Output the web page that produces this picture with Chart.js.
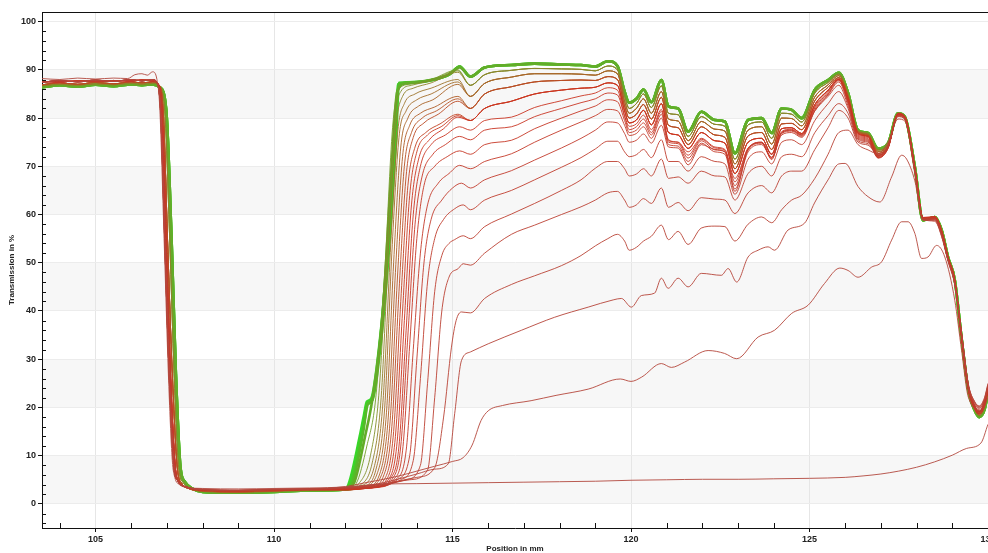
<!DOCTYPE html>
<html>
<head>
<meta charset="utf-8">
<title>Transmission profiles</title>
<style>
  html, body { margin: 0; padding: 0; background: #fff; }
  #wrap { width: 988px; height: 553px; }
</style>
</head>
<body>
<div id="wrap"><canvas id="myChart"></canvas></div>
<script src="https://cdn.jsdelivr.net/npm/chart.js"></script>
<script>
// Axis ticks
const xTicks = [105, 110, 115, 120, 125, 130];
const yTicks = [0, 10, 20, 30, 40, 50, 60, 70, 80, 90, 100];

// Entry plateau and first edge, [position mm, transmission %]
const leftTop = [[103.5, 88.2], [104.0, 88.0], [104.5, 88.3], [105.0, 88.1], [105.5, 88.3], [105.9, 88.2], [106.1, 89.0], [106.3, 89.2], [106.45, 88.9], [106.6, 89.6], [106.72, 88.0], [106.8, 82.0], [106.92, 55.0], [107.04, 27.0], [107.15, 9.0], [107.22, 5.5], [107.35, 4.0], [107.6, 3.4], [108.0, 3.2], [109.0, 3.1], [110.0, 3.2], [111.0, 3.3]];
const leftRed = [[103.5, 87.4], [104.0, 87.8], [104.5, 87.5], [105.0, 87.9], [105.5, 87.6], [106.0, 88.0], [106.3, 87.7], [106.6, 88.0], [106.72, 87.4], [106.82, 81.5], [106.94, 54.0], [107.06, 27.0], [107.19, 8.0], [107.3, 4.8], [107.5, 3.6], [108.0, 3.0], [109.0, 2.8], [110.0, 3.0], [111.0, 3.1]];
const leftRedLate = [[103.5, 87.6], [104.0, 87.5], [104.5, 87.7], [105.0, 87.6], [105.5, 87.8], [106.0, 87.7], [106.3, 87.9], [106.6, 87.7], [106.74, 87.2], [106.86, 81.5], [106.98, 54.0], [107.1, 27.0], [107.23, 8.0], [107.34, 4.6], [107.55, 3.5], [108.0, 2.9], [109.0, 2.7], [110.0, 2.9], [111.0, 3.0]];
const leftOlive = [[103.5, 86.9], [104.0, 87.3], [104.5, 87.0], [105.0, 87.4], [105.5, 87.1], [106.0, 87.5], [106.3, 87.3], [106.6, 87.5], [106.76, 87.0], [106.9, 81.0], [107.02, 54.0], [107.15, 27.0], [107.29, 7.5], [107.42, 4.2], [107.6, 3.2], [108.0, 2.7], [109.0, 2.5], [110.0, 2.7], [111.0, 2.9]];
const leftLime = [[103.5, 86.7], [104.0, 87.0], [104.5, 86.8], [105.0, 87.1], [105.5, 86.9], [106.0, 87.2], [106.3, 87.0], [106.6, 87.2], [106.78, 86.7], [106.94, 81.3], [107.08, 54.3], [107.2, 27.0], [107.33, 7.5], [107.46, 4.4], [107.65, 3.2], [108.0, 2.6], [109.0, 2.4], [110.0, 2.6], [111.0, 2.8]];
const leftGreen = [[103.5, 86.4], [104.0, 86.8], [104.5, 86.5], [105.0, 86.9], [105.5, 86.6], [106.0, 87.0], [106.3, 86.8], [106.6, 87.0], [106.8, 86.4], [106.98, 81.7], [107.13, 54.7], [107.25, 27.0], [107.38, 7.5], [107.5, 4.6], [107.7, 3.2], [108.0, 2.5], [109.0, 2.3], [110.0, 2.5], [111.0, 2.8]];

// First three scans, complete from 112 mm
const tailA = [[112, 3.5], [112.5, 3.8], [113, 4.1], [114, 4.2], [115, 4.3], [116, 4.4], [117, 4.5], [118, 4.6], [119, 4.7], [120, 4.9], [121, 5.0], [122, 5.1], [123, 5.1], [124, 5.2], [125, 5.3], [126, 5.5], [126.5, 5.8], [127, 6.2], [127.5, 6.8], [128, 7.6], [128.5, 8.7], [129, 10.1], [129.4, 11.5], [129.8, 12.6], [130, 16.5]];
const tailB = [[112, 3.6], [112.5, 4.3], [113, 5.0], [113.5, 5.8], [114, 6.8], [114.5, 7.8], [115, 8.8], [115.3, 9.6], [115.55, 12.2], [115.8, 17.3], [116.0, 19.3], [116.4, 20.4], [117.2, 21.4], [117.9, 22.5], [118.8, 23.8], [119.7, 25.9], [120.0, 25.4], [120.3, 26.3], [120.85, 29.1], [121.13, 28.3], [121.5, 29.4], [122.16, 31.8], [122.62, 31.2], [122.96, 30.1], [123.56, 34.6], [124.02, 36.0], [124.5, 39.5], [124.96, 41.2], [125.42, 45.7], [125.85, 48.9], [126.08, 48.4], [126.36, 47.0], [126.74, 49.1], [127.02, 50.2], [127.3, 54.7], [127.58, 58.5], [127.76, 58.5], [127.95, 56.1], [128.14, 50.9], [128.32, 51.2], [128.56, 53.6], [128.79, 51.2], [129.07, 42.2], [129.26, 31.8], [129.45, 22.1], [129.82, 19.3], [130.0, 22.1]];
const tailC = [[112, 3.4], [113, 4.3], [114, 6.2], [114.5, 7.2], [114.88, 8.3], [115.06, 18.7], [115.25, 29.7], [115.5, 31.5], [116.0, 33.2], [116.93, 36.0], [117.86, 38.7], [118.8, 40.8], [119.5, 42.3], [119.73, 42.6], [120.01, 40.8], [120.29, 43.2], [120.66, 43.7], [120.85, 46.8], [121.04, 44.7], [121.32, 46.8], [121.6, 45.0], [121.97, 47.8], [122.53, 47.4], [122.72, 48.8], [122.96, 46.0], [123.28, 51.2], [123.56, 52.6], [123.84, 53.3], [124.02, 52.6], [124.4, 56.8], [124.86, 58.2], [125.14, 62.4], [125.52, 67.2], [125.82, 70.5], [126.0, 70.6], [126.36, 65.8], [126.64, 63.7], [126.97, 62.6], [127.3, 67.8], [127.58, 72.3], [127.72, 71.5], [127.95, 67.0], [128.18, 58.8], [128.51, 58.8], [128.7, 55.5], [128.88, 50.3], [129.07, 45.4], [129.25, 36.0], [129.45, 24.8], [129.62, 21.3], [129.75, 20.3], [129.9, 22.0], [130, 25.0]];

// Second edge of the later scans, [position mm, transmission %]
const rise1 = [[112, 3.4], [113, 4.1], [114, 5.5], [114.5, 7.5], [114.75, 18.0], [114.97, 32.5], [115.1, 38.0], [115.25, 39.8]];
const rise2 = [[112, 3.3], [113, 4.0], [113.8, 5.0], [114.3, 7.0], [114.5, 22.0], [114.7, 40.0], [114.9, 47.0], [115.16, 48.8], [115.3, 49.8]];
const rise3 = [[112, 3.3], [113, 3.9], [113.7, 5.0], [114.1, 8.0], [114.3, 25.0], [114.5, 44.0], [114.7, 51.5], [114.9, 54.0], [115.06, 54.8], [115.3, 55.6]];
const rise4 = [[112, 3.2], [113, 3.8], [113.55, 5.0], [113.9, 9.0], [114.1, 26.0], [114.3, 46.0], [114.5, 55.0], [114.75, 59.0], [115.06, 61.2], [115.3, 62.0]];
const rise5 = [[112, 3.2], [113, 3.7], [113.45, 5.0], [113.8, 10.0], [114.0, 30.0], [114.2, 50.0], [114.4, 59.0], [114.7, 63.0], [115.0, 65.5], [115.25, 66.5]];
const rise6 = [[112, 3.2], [113, 3.7], [113.4, 5.0], [113.7, 11.0], [113.9, 32.0], [114.1, 52.0], [114.3, 62.0], [114.6, 66.5], [114.9, 68.5], [115.2, 70.2]];
const rise7 = [[112, 3.1], [113, 3.6], [113.35, 5.0], [113.6, 11.0], [113.8, 33.0], [114.0, 55.0], [114.2, 66.0], [114.5, 70.0], [114.85, 72.0], [115.2, 73.2]];
const rise8 = [[112, 3.1], [113, 3.6], [113.3, 5.0], [113.55, 12.0], [113.75, 35.0], [113.95, 58.0], [114.15, 68.0], [114.45, 72.5], [114.8, 74.5], [115.2, 76.2]];
const rise9 = [[112, 3.1], [113, 3.5], [113.25, 5.0], [113.5, 12.0], [113.7, 36.0], [113.9, 60.0], [114.1, 70.0], [114.4, 74.5], [114.8, 76.5], [115.2, 78.2]];

const bundleRises = [
  [[112, 3.0], [112.8, 3.4], [113.2, 5.0], [113.45, 13.0], [113.65, 38.0], [113.85, 62.0], [114.05, 71.5], [114.35, 75.5], [114.75, 77.8], [115.15, 80.2]],
  [[112, 3.0], [112.8, 3.4], [113.15, 5.0], [113.4, 14.0], [113.6, 40.0], [113.8, 64.0], [114.0, 73.0], [114.3, 76.5], [114.7, 78.3], [115.15, 80.5]],
  [[112, 3.0], [112.7, 3.4], [113.1, 5.2], [113.35, 15.0], [113.55, 42.0], [113.75, 66.0], [113.95, 74.0], [114.25, 77.0], [114.65, 78.8], [115.15, 80.8]],
  [[112, 2.9], [112.7, 3.4], [113.05, 5.5], [113.3, 16.0], [113.5, 44.0], [113.7, 68.0], [113.9, 76.0], [114.2, 79.0], [114.6, 80.8], [115.15, 83.5]],
  [[112, 2.9], [112.6, 3.4], [113.0, 5.8], [113.25, 17.0], [113.45, 46.0], [113.65, 70.0], [113.85, 77.0], [114.15, 80.0], [114.55, 81.5], [115.15, 84.0]],
  [[112, 2.9], [112.6, 3.5], [112.95, 6.0], [113.2, 18.0], [113.4, 48.0], [113.6, 72.0], [113.8, 78.5], [114.1, 81.0], [114.5, 82.3], [115.15, 84.5]],
  [[112, 2.9], [112.5, 3.5], [112.9, 6.5], [113.15, 19.0], [113.35, 50.0], [113.55, 74.0], [113.75, 80.0], [114.05, 82.5], [114.45, 83.8], [115.15, 87.0]],
  [[112, 2.9], [112.5, 3.6], [112.85, 7.0], [113.1, 20.0], [113.3, 52.0], [113.5, 76.0], [113.7, 81.5], [114.0, 83.8], [114.4, 85.0], [115.15, 87.5]],
  [[112, 2.9], [112.4, 3.6], [112.8, 7.5], [113.05, 21.0], [113.27, 54.0], [113.47, 77.5], [113.65, 83.0], [113.95, 85.0], [114.4, 86.2], [115.15, 88.0]],
  [[112, 2.9], [112.4, 3.8], [112.75, 8.5], [113.0, 22.0], [113.22, 55.0], [113.42, 78.5], [113.6, 84.5], [113.9, 86.2], [114.4, 87.3], [115.15, 89.5]],
  [[112, 2.9], [112.35, 4.0], [112.7, 10.0], [112.95, 24.0], [113.18, 56.0], [113.38, 80.0], [113.55, 85.5], [113.85, 86.8], [114.4, 87.8], [115.15, 89.8]],
  [[112, 2.9], [112.3, 4.2], [112.6, 12.0], [112.85, 22.0], [113.1, 48.0], [113.32, 78.0], [113.5, 86.0], [113.8, 87.0], [114.4, 88.0], [115.15, 90.0]],
  [[112, 3.0], [112.25, 4.5], [112.55, 14.0], [112.75, 21.5], [113.05, 40.0], [113.28, 68.0], [113.45, 85.5], [113.7, 87.2], [114.3, 87.8], [114.9, 89.0], [115.2, 90.5]],
  [[112, 3.0], [112.2, 4.5], [112.5, 15.0], [112.62, 20.5], [112.75, 21.5], [113.0, 36.0], [113.24, 60.0], [113.42, 82.0], [113.5, 87.0], [114.0, 87.4], [114.5, 88.0], [114.9, 89.0], [115.2, 90.7]],
  [[112, 3.0], [112.17, 4.8], [112.45, 14.0], [112.54, 17.5], [112.62, 21.0], [112.75, 21.5], [113.0, 33.9], [113.24, 54.7], [113.42, 75.5], [113.5, 87.3], [114.0, 87.5], [114.5, 88.0], [114.9, 89.0], [115.2, 90.7]],
  [[112, 3.0], [112.12, 4.8], [112.4, 14.0], [112.52, 18.5], [112.6, 21.2], [112.72, 21.8], [112.95, 33.0], [113.2, 54.0], [113.38, 75.0], [113.47, 87.0], [114.0, 87.5], [114.5, 88.0], [114.9, 89.0], [115.2, 90.7]]
];

// Upper plateau positions (mm) shared by the body arrays below
const bodyPos = [115.5, 115.9, 116.65, 117.3, 118.05, 118.6, 119.0, 119.35, 119.62, 119.82,
  119.95, 120.15, 120.35, 120.57, 120.85, 121.05, 121.32, 121.6, 121.97, 122.35,
  122.63, 122.91, 123.28, 123.66, 123.94, 124.22, 124.5, 124.78, 125.15, 125.52,
  125.82, 126.08, 126.36, 126.64, 126.92, 127.2, 127.48, 127.67, 127.95, 128.18,
  128.51, 128.7, 128.88, 129.07, 129.25, 129.45, 129.62, 129.75, 129.9, 130];

const mid1 = [39.6, 42.6, 45.5, 47.3, 49.4, 51.5, 53.5, 55.0, 55.9, 54.5,
  52.6, 53.2, 54.5, 55.5, 57.8, 54.8, 56.5, 53.8, 57.2, 57.6,
  57.5, 54.5, 58.0, 59.5, 58.3, 61.0, 63.0, 64.0, 67.5, 72.5,
  77.0, 77.5, 74.5, 73.4, 72.6, 75.0, 79.8, 79.4, 68.5, 59.0,
  58.6, 55.5, 50.5, 45.5, 35.8, 24.5, 21.0, 20.0, 21.5, 24.5];
const mid2 = [49.5, 52.0, 55.9, 57.8, 60.0, 61.6, 63.0, 64.5, 64.8, 63.0,
  61.5, 62.0, 63.3, 62.3, 65.5, 61.5, 62.5, 60.8, 63.5, 63.2,
  63.0, 60.2, 64.5, 66.0, 64.5, 68.0, 69.0, 69.0, 73.5, 78.0,
  81.6, 80.0, 75.0, 74.4, 72.4, 74.2, 80.3, 79.7, 69.0, 59.0,
  58.9, 55.8, 50.6, 45.6, 36.0, 24.8, 21.2, 20.2, 21.8, 24.8];
const mid3 = [55.0, 57.5, 60.1, 62.3, 65.0, 67.2, 69.6, 71.0, 71.0, 69.5,
  68.0, 68.4, 69.5, 68.0, 71.5, 67.5, 67.8, 66.5, 69.0, 68.0,
  67.8, 63.0, 68.5, 70.0, 68.0, 72.0, 72.5, 72.0, 77.0, 80.5,
  83.0, 81.0, 75.3, 74.7, 72.2, 74.0, 80.4, 79.8, 69.2, 59.1,
  59.0, 56.0, 50.7, 45.8, 35.8, 24.5, 20.8, 19.8, 21.5, 24.5];
const mid4 = [61.0, 63.0, 65.0, 67.2, 69.8, 71.8, 73.6, 75.2, 75.2, 73.0,
  72.0, 72.4, 73.5, 71.8, 75.5, 71.0, 71.0, 69.0, 72.0, 71.0,
  70.5, 64.2, 71.5, 73.0, 70.5, 75.0, 75.5, 74.5, 79.5, 83.0,
  85.5, 82.0, 75.6, 75.0, 72.3, 74.2, 80.5, 79.9, 69.3, 59.0,
  59.1, 56.1, 50.8, 45.9, 35.6, 24.3, 20.5, 19.5, 21.2, 24.2];
const mid5 = [65.5, 67.2, 69.1, 71.3, 73.8, 75.8, 77.5, 79.2, 79.0, 76.8,
  75.0, 75.4, 76.7, 74.8, 78.5, 74.0, 73.8, 70.3, 74.5, 73.5,
  73.0, 64.8, 73.5, 75.0, 72.5, 77.0, 77.5, 76.5, 81.5, 84.5,
  86.8, 82.5, 75.8, 75.2, 72.0, 74.0, 80.6, 80.0, 69.4, 59.0,
  59.2, 56.2, 50.9, 46.0, 35.5, 24.1, 20.3, 19.2, 21.0, 24.0];
const mid6 = [69.5, 71.0, 72.6, 75.0, 77.5, 79.2, 80.5, 81.8, 81.5, 78.5,
  76.4, 76.8, 78.2, 75.8, 80.0, 74.5, 74.2, 71.0, 74.8, 73.0,
  72.5, 65.3, 73.0, 74.5, 71.8, 76.5, 77.0, 76.0, 81.5, 84.8,
  87.5, 83.0, 76.0, 75.4, 71.8, 73.8, 80.7, 80.1, 69.5, 59.1,
  59.3, 56.3, 51.0, 46.1, 35.3, 23.9, 20.1, 19.0, 20.8, 23.8];
const mid7 = [72.5, 74.5, 75.4, 77.8, 80.0, 81.5, 82.5, 83.8, 83.4, 79.5,
  77.0, 77.5, 79.0, 76.5, 80.8, 75.0, 74.7, 71.7, 75.3, 73.4,
  73.0, 66.0, 73.4, 74.8, 71.9, 76.8, 77.3, 76.2, 81.8, 85.0,
  87.8, 83.3, 76.2, 75.6, 71.7, 73.7, 80.8, 80.2, 69.6, 59.2,
  59.4, 56.4, 51.0, 46.2, 35.2, 23.8, 20.0, 18.8, 20.6, 23.6];
const mid8 = [75.5, 77.5, 78.2, 80.3, 82.0, 83.2, 84.0, 85.2, 84.8, 80.3,
  77.6, 78.2, 79.8, 77.0, 81.4, 75.3, 75.0, 72.3, 75.6, 73.8,
  73.3, 66.8, 73.7, 74.9, 71.6, 77.0, 77.5, 76.4, 82.1, 85.3,
  88.0, 83.5, 76.4, 75.8, 71.8, 73.8, 80.9, 80.3, 69.7, 59.3,
  59.5, 56.5, 51.1, 46.3, 35.1, 23.7, 19.9, 18.6, 20.4, 23.4];
const mid9 = [77.5, 79.5, 80.2, 82.2, 83.6, 84.6, 85.2, 86.3, 85.8, 80.5,
  78.3, 78.8, 80.6, 77.6, 81.8, 75.5, 75.0, 73.0, 75.8, 74.0,
  73.5, 67.5, 73.8, 75.0, 71.4, 77.2, 77.7, 76.6, 82.4, 85.6,
  88.2, 83.8, 76.6, 76.0, 72.0, 73.9, 81.0, 80.4, 69.8, 59.4,
  59.6, 56.6, 51.2, 46.4, 35.0, 23.6, 19.8, 18.5, 20.2, 23.2];

const band1 = [79.5, 82.0, 83.5, 85.0, 85.8, 86.2, 86.4, 87.3, 86.8, 81.5,
  79.0, 79.6, 81.6, 78.6, 83.0, 77.0, 76.5, 73.7, 77.0, 75.3,
  74.8, 68.5, 75.0, 75.8, 72.5, 77.8, 78.0, 76.8, 82.8, 85.8,
  88.0, 84.0, 76.8, 76.2, 72.3, 74.0, 80.7, 80.2, 69.6, 59.3,
  59.4, 56.5, 51.1, 46.2, 35.5, 24.2, 20.4, 19.2, 21.0, 24.2];
const band2 = [82.0, 85.0, 86.5, 87.5, 87.8, 87.9, 87.8, 88.6, 88.0, 82.5,
  80.0, 80.8, 82.8, 79.8, 84.3, 78.5, 78.0, 74.5, 78.2, 76.5,
  76.0, 69.5, 76.3, 77.0, 73.5, 78.8, 78.9, 77.6, 83.6, 86.4,
  88.4, 84.3, 77.0, 76.4, 72.7, 74.2, 80.8, 80.2, 69.7, 59.2,
  59.5, 56.6, 51.1, 46.3, 35.3, 24.0, 20.2, 19.0, 20.7, 23.9];
const band3 = [84.5, 87.2, 88.5, 89.2, 89.2, 89.1, 88.9, 89.8, 89.2, 83.5,
  81.0, 82.0, 84.0, 81.0, 85.5, 79.8, 79.4, 75.3, 79.3, 77.7,
  77.3, 70.5, 77.5, 78.2, 74.6, 80.0, 79.9, 78.4, 84.4, 86.9,
  88.8, 84.6, 77.2, 76.6, 73.1, 74.4, 80.9, 80.2, 69.8, 59.1,
  59.5, 56.7, 51.2, 46.4, 35.2, 23.8, 19.9, 18.7, 20.3, 23.6];
const band4 = [86.8, 89.0, 89.9, 90.3, 90.2, 90.1, 89.8, 90.8, 90.0, 84.5,
  82.0, 83.0, 85.0, 82.2, 86.7, 81.0, 80.7, 76.2, 80.3, 78.7,
  78.3, 71.5, 78.6, 79.2, 75.8, 81.0, 80.8, 79.2, 85.2, 87.4,
  89.1, 84.9, 77.4, 76.8, 73.4, 74.6, 81.0, 80.3, 69.9, 59.0,
  59.5, 56.8, 51.2, 46.4, 35.1, 23.6, 19.7, 18.3, 19.9, 23.3];
const bandTop = [88.6, 90.5, 91.0, 91.3, 91.1, 91.0, 90.7, 91.8, 90.8, 85.5,
  83.2, 84.0, 85.9, 83.3, 87.9, 82.4, 82.0, 77.2, 81.3, 79.6,
  79.3, 72.7, 79.6, 80.0, 76.9, 82.0, 81.7, 80.0, 85.9, 87.9,
  89.4, 85.2, 77.5, 76.9, 73.7, 74.8, 81.0, 80.3, 69.9, 58.8,
  59.5, 56.8, 51.2, 46.4, 35.0, 23.5, 19.5, 18.0, 19.5, 23.0];

// scan order: first pieces of each curve
const curves = [
  { left: leftTop, tail: tailA },
  { left: leftRed, tail: tailB },
  { left: leftRed, tail: tailC },
  { left: leftRed, tail: rise1, body: mid1 },
  { left: leftRed, tail: rise2, body: mid2 },
  { left: leftRed, tail: rise3, body: mid3 },
  { left: leftRed, tail: rise4, body: mid4 },
  { left: leftRedLate, tail: rise5, body: mid5 },
  { left: leftRedLate, tail: rise6, body: mid6 },
  { left: leftRedLate, tail: rise7, body: mid7 },
  { left: leftRedLate, tail: rise8, body: mid8 },
  { left: leftRedLate, tail: rise9, body: mid9 }
];
const bundleLeft = [leftRedLate, leftRedLate, leftRedLate, leftOlive, leftOlive, leftOlive,
  leftOlive, leftOlive, leftOlive, leftLime, leftLime, leftLime, leftGreen, leftGreen, leftGreen, leftGreen];
const bundleBody = [band1, band1, band1, band2, band2, band2, band3, band3, band3,
  band4, band4, band4, bandTop, bandTop, bandTop, bandTop];
bundleRises.forEach((r, i) => curves.push({ left: bundleLeft[i], tail: r, body: bundleBody[i] }));

function toPoints(c) {
  const pts = c.left.concat(c.tail).map(p => ({ x: p[0], y: p[1] }));
  if (c.body) c.body.forEach((y, i) => pts.push({ x: bodyPos[i], y: y }));
  return pts;
}

// red -> brown -> green along the scan order
function lineColour(t) {
  const stops = [[0, [178, 72, 62]], [0.45, [205, 50, 30]], [0.75, [155, 118, 42]], [1, [55, 215, 40]]];
  let k = 1;
  while (k < stops.length - 1 && t > stops[k][0]) k++;
  const a = stops[k - 1], b = stops[k];
  const f = (t - a[0]) / (b[0] - a[0]);
  const c = a[1].map((v, j) => Math.round(v + (b[1][j] - v) * f));
  return 'rgb(' + c.join(',') + ')';
}

const n = curves.length;
const datasets = curves.map((c, i) => ({
  data: toPoints(c),
  borderColor: lineColour(i / (n - 1)),
  borderWidth: i >= n - 4 ? 2.6 : 0.9,
  pointRadius: 0,
  fill: false,
  cubicInterpolationMode: 'monotone'
}));

const tickFont = { family: 'Liberation Sans', size: 9, weight: 'bold' };

// bands, minor ticks, frame and axis titles
const decor = {
  id: 'decor',
  beforeDraw(chart) {
    const { ctx, chartArea: a, scales: { y } } = chart;
    ctx.save();
    ctx.fillStyle = '#f7f7f7';
    for (let v = 0; v < 100; v += 20) {
      const top = y.getPixelForValue(v + 10), bottom = y.getPixelForValue(v);
      ctx.fillRect(a.left, top, a.right - a.left, bottom - top);
    }
    ctx.restore();
  },
  afterDraw(chart) {
    const { ctx, chartArea: a, scales: { x, y } } = chart;
    ctx.save();
    ctx.strokeStyle = '#111';
    ctx.lineWidth = 1;
    ctx.beginPath();
    for (let v = 104; v < 130; v++) {
      if (v % 5 === 0) continue;
      const px = Math.round(x.getPixelForValue(v)) + 0.5;
      ctx.moveTo(px, a.bottom);
      ctx.lineTo(px, a.bottom - 5);
    }
    for (let v = -4; v <= 100; v += 2) {
      if (v % 10 === 0) continue;
      const py = Math.round(y.getPixelForValue(v)) + 0.5;
      ctx.moveTo(a.left, py);
      ctx.lineTo(a.left + 4, py);
    }
    ctx.moveTo(a.left, a.top + 0.5);
    ctx.lineTo(a.right, a.top + 0.5);
    ctx.stroke();

    ctx.fillStyle = '#222';
    ctx.font = 'bold 8px "Liberation Sans"';
    ctx.textAlign = 'center';
    ctx.textBaseline = 'middle';
    ctx.fillText('Position in mm', (a.left + a.right) / 2, 549);
    ctx.translate(12, (a.top + a.bottom) / 2);
    ctx.rotate(-Math.PI / 2);
    ctx.fillText('Transmission in %', 0, 0);
    ctx.restore();
  }
};

Chart.defaults.font.family = 'Liberation Sans';

new Chart(document.getElementById('myChart'), {
  type: 'line',
  data: { datasets: datasets },
  plugins: [decor],
  options: {
    responsive: true,
    maintainAspectRatio: false,
    animation: false,
    events: [],
    layout: { padding: { top: 12, right: 0, left: 0, bottom: 0 } },
    plugins: {
      legend: { display: false },
      tooltip: { enabled: false }
    },
    scales: {
      x: {
        type: 'linear',
        min: 103.5,
        max: 130,
        afterBuildTicks: axis => { axis.ticks = xTicks.map(v => ({ value: v })); },
        afterFit: s => { s.height = 25; s.paddingLeft = 0; s.paddingRight = 0; },
        ticks: { font: tickFont, color: '#222', padding: 2, maxRotation: 0, autoSkip: false },
        grid: { color: '#e6e6e6', tickLength: 4, tickColor: '#111' },
        border: { color: '#111', width: 1 }
      },
      y: {
        min: -5,
        max: 102,
        afterBuildTicks: axis => { axis.ticks = yTicks.map(v => ({ value: v })); },
        afterFit: s => { s.width = 42; s.paddingTop = 0; s.paddingBottom = 0; },
        ticks: { font: tickFont, color: '#222', padding: 2 },
        grid: { color: '#ececec', tickLength: 4, tickColor: '#111' },
        border: { color: '#111', width: 1 }
      }
    }
  }
});
</script>
</body>
</html>
